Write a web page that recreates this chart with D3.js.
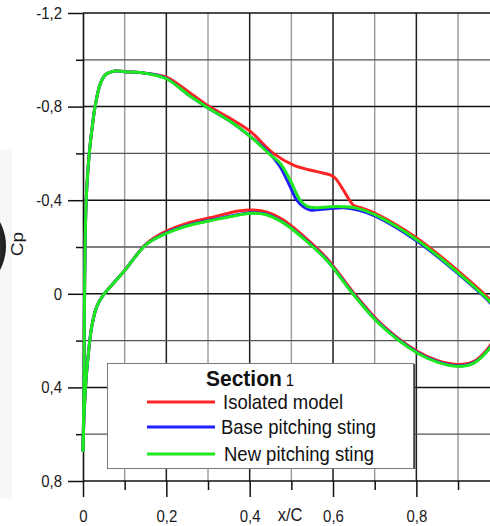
<!DOCTYPE html>
<html>
<head>
<meta charset="utf-8">
<script src="https://cdn.jsdelivr.net/npm/d3@7"></script>
<style>
  html, body { margin: 0; padding: 0; background: #fff; }
  svg { display: block; font-family: "Liberation Sans", Arial, sans-serif; }
</style>
</head>
<body>
<svg id="chart" width="490" height="526"></svg>
<script>
// ---- Pressure distribution, Section 1 ----
const seriesNames  = ["Isolated model", "Base pitching sting", "New pitching sting"];
const seriesColors = ["#ff2424", "#2020ff", "#1ee81e"];

// Axis ticks
const xTicks      = [0, 0.2, 0.4, 0.6, 0.8];
const xTickLabels = ["0", "0,2", "0,4", "0,6", "0,8"];
const xMinorTicks = [0.1, 0.3, 0.5, 0.7, 0.9];
const yTicks      = [-1.2, -0.8, -0.4, 0, 0.4, 0.8];
const yTickLabels = ["-1,2", "-0,8", "-0,4", "0", "0,4", "0,8"];
const yMinorTicks = [-1.0, -0.6, -0.2, 0.2, 0.6];

// Isolated model
const isoUpperX  = [0, 0.002, 0.003, 0.004, 0.006, 0.009, 0.015, 0.022, 0.029, 0.041, 0.053, 0.077, 0.1, 0.153, 0.2, 0.257, 0.301, 0.353, 0.401, 0.457, 0.505, 0.561, 0.593, 0.605, 0.625, 0.649, 0.67, 0.7, 0.8, 0.9, 0.978, 1.0];
const isoUpperCp = [0.67, 0.45, 0.2, -0.05, -0.3, -0.45, -0.6, -0.71, -0.8, -0.895, -0.935, -0.952, -0.949, -0.942, -0.926, -0.858, -0.802, -0.75, -0.695, -0.6, -0.55, -0.522, -0.508, -0.495, -0.443, -0.379, -0.366, -0.345, -0.24, -0.098, 0.028, 0.08];
const isoLowerX  = [0, 0.003, 0.008, 0.013, 0.021, 0.033, 0.049, 0.073, 0.1, 0.153, 0.2, 0.249, 0.305, 0.377, 0.409, 0.44, 0.481, 0.53, 0.585, 0.649, 0.713, 0.801, 0.85, 0.897, 0.937, 0.969, 0.99, 1.0];
const isoLowerCp = [0.67, 0.5, 0.35, 0.254, 0.14, 0.055, 0.005, -0.045, -0.1, -0.216, -0.268, -0.301, -0.325, -0.355, -0.358, -0.35, -0.315, -0.245, -0.152, -0.005, 0.124, 0.245, 0.285, 0.302, 0.29, 0.24, 0.18, 0.12];

// Base pitching sting
const baseUpperX  = [0, 0.002, 0.003, 0.004, 0.006, 0.009, 0.015, 0.022, 0.029, 0.041, 0.053, 0.077, 0.1, 0.153, 0.2, 0.257, 0.301, 0.353, 0.401, 0.449, 0.473, 0.497, 0.513, 0.529, 0.545, 0.57, 0.593, 0.625, 0.66, 0.7, 0.8, 0.9, 0.978, 1.0];
const baseUpperCp = [0.67, 0.45, 0.2, -0.05, -0.3, -0.45, -0.6, -0.71, -0.8, -0.895, -0.935, -0.952, -0.949, -0.942, -0.92, -0.845, -0.793, -0.737, -0.673, -0.598, -0.543, -0.458, -0.4, -0.372, -0.358, -0.36, -0.364, -0.368, -0.358, -0.333, -0.227, -0.086, 0.04, 0.095];
const baseLowerX  = [0, 0.003, 0.008, 0.013, 0.021, 0.033, 0.049, 0.073, 0.1, 0.153, 0.2, 0.249, 0.305, 0.377, 0.409, 0.44, 0.481, 0.53, 0.585, 0.649, 0.713, 0.801, 0.85, 0.897, 0.937, 0.969, 0.99, 1.0];
const baseLowerCp = [0.67, 0.5, 0.35, 0.254, 0.14, 0.055, 0.005, -0.045, -0.1, -0.213, -0.26, -0.292, -0.314, -0.34, -0.346, -0.34, -0.305, -0.237, -0.145, 0.001, 0.13, 0.25, 0.29, 0.308, 0.295, 0.246, 0.188, 0.128];

// New pitching sting
const newUpperX  = [0, 0.002, 0.003, 0.004, 0.006, 0.009, 0.015, 0.022, 0.029, 0.041, 0.053, 0.077, 0.1, 0.153, 0.2, 0.257, 0.301, 0.353, 0.401, 0.449, 0.473, 0.497, 0.521, 0.537, 0.56, 0.593, 0.625, 0.657, 0.7, 0.8, 0.9, 0.978, 1.0];
const newUpperCp = [0.67, 0.45, 0.2, -0.05, -0.3, -0.45, -0.6, -0.71, -0.8, -0.895, -0.935, -0.952, -0.949, -0.942, -0.919, -0.845, -0.793, -0.737, -0.673, -0.595, -0.558, -0.486, -0.4, -0.375, -0.368, -0.372, -0.372, -0.366, -0.338, -0.232, -0.09, 0.036, 0.09];
const newLowerX  = [0, 0.003, 0.008, 0.013, 0.021, 0.033, 0.049, 0.073, 0.1, 0.153, 0.2, 0.249, 0.305, 0.377, 0.409, 0.44, 0.481, 0.53, 0.585, 0.649, 0.713, 0.801, 0.85, 0.897, 0.937, 0.969, 0.99, 1.0];
const newLowerCp = [0.67, 0.5, 0.35, 0.254, 0.14, 0.055, 0.005, -0.045, -0.1, -0.212, -0.258, -0.29, -0.312, -0.338, -0.344, -0.338, -0.303, -0.235, -0.143, 0.003, 0.132, 0.252, 0.292, 0.31, 0.297, 0.248, 0.19, 0.13];

const surfaces = [
  { s: 0, xs: isoUpperX,  cp: isoUpperCp },
  { s: 0, xs: isoLowerX,  cp: isoLowerCp },
  { s: 1, xs: baseUpperX, cp: baseUpperCp },
  { s: 1, xs: baseLowerX, cp: baseLowerCp },
  { s: 2, xs: newUpperX,  cp: newUpperCp },
  { s: 2, xs: newLowerX,  cp: newLowerCp }
];

// ---- Layout ----
const W = 490, H = 526;
const x = d3.scaleLinear().domain([0, 1]).range([83, 499.7]);
const y = d3.scaleLinear().domain([-1.2, 0.8]).range([13, 481]);
const svg = d3.select("#chart");

// faint strip and the edge of a dark disc at the left border
const defs = svg.append("defs");
const rg = defs.append("radialGradient").attr("id", "disc").attr("cx", "50%").attr("cy", "50%").attr("r", "50%");
rg.append("stop").attr("offset", "0%").attr("stop-color", "#555");
rg.append("stop").attr("offset", "85%").attr("stop-color", "#2e2e2e");
rg.append("stop").attr("offset", "100%").attr("stop-color", "#1c1c1c");
svg.append("rect").attr("x", 0).attr("y", 150).attr("width", 12).attr("height", 348).attr("fill", "#f7f7f7");
svg.append("circle").attr("cx", -45).attr("cy", 246).attr("r", 51).attr("fill", "url(#disc)");

// ---- Grid ----
const grid = svg.append("g");
const xMajorGrid = xTicks.filter(d => d > 0).concat([1.0]);
grid.selectAll(".vmin").data(xMinorTicks).join("line")
  .attr("x1", d => x(d)).attr("x2", d => x(d))
  .attr("y1", y(-1.2)).attr("y2", y(0.8))
  .attr("stroke", "#9a9a9a").attr("stroke-width", 1.4);
grid.selectAll(".vmaj").data(xMajorGrid).join("line")
  .attr("x1", d => x(d)).attr("x2", d => x(d))
  .attr("y1", y(-1.2)).attr("y2", y(0.8))
  .attr("stroke", "#1e1e1e").attr("stroke-width", 1.5);
grid.selectAll(".hmin").data(yMinorTicks).join("line")
  .attr("x1", x(0)).attr("x2", W)
  .attr("y1", d => y(d)).attr("y2", d => y(d))
  .attr("stroke", "#555").attr("stroke-width", 1.3);
grid.selectAll(".hmaj").data(yTicks.filter(d => d < 0.8)).join("line")
  .attr("x1", x(0)).attr("x2", W)
  .attr("y1", d => y(d)).attr("y2", d => y(d))
  .attr("stroke", "#111").attr("stroke-width", 1.5);

// ---- Axes ----
const axisStyle = g => {
  g.selectAll("path.domain").attr("stroke", "#111").attr("stroke-width", 1.6);
  g.selectAll(".tick line").attr("stroke", "#111").attr("stroke-width", 1.5);
};

const yAxis = svg.append("g").attr("transform", `translate(${x(0)},0)`)
  .call(d3.axisLeft(y).tickValues(yTicks).tickSize(15).tickSizeOuter(0).tickPadding(6)
    .tickFormat((d, i) => yTickLabels[i]))
  .call(axisStyle);
yAxis.selectAll(".tick text")
  .attr("font-size", 15).attr("font-family", "Liberation Sans, Arial, sans-serif")
  .attr("fill", "#1a1a1a").attr("transform", "scale(1,1.12)");

svg.append("g").attr("transform", `translate(${x(0)},0)`)
  .call(d3.axisLeft(y).tickValues(yMinorTicks).tickSize(7).tickFormat(""))
  .call(g => g.select("path.domain").remove())
  .call(axisStyle);

const xAxis = svg.append("g").attr("transform", `translate(0,${y(0.8)})`)
  .call(d3.axisBottom(x).tickValues(xTicks).tickSize(16).tickSizeOuter(0)
    .tickFormat((d, i) => xTickLabels[i]))
  .call(axisStyle);
xAxis.select("path.domain").attr("d", `M${x(0)},0H${W}`);
xAxis.selectAll(".tick text")
  .attr("font-size", 15).attr("font-family", "Liberation Sans, Arial, sans-serif")
  .attr("fill", "#1a1a1a").attr("y", 26).attr("transform", "scale(1,1.12)");

svg.append("g").attr("transform", `translate(0,${y(0.8)})`)
  .call(d3.axisBottom(x).tickValues(xMinorTicks).tickSize(9).tickFormat(""))
  .call(g => g.select("path.domain").remove())
  .call(axisStyle);

// axis titles
svg.append("text").attr("transform", "translate(290,521) scale(1,1.1)")
  .attr("text-anchor", "middle").attr("font-size", 16.5).attr("fill", "#1a1a1a").text("x/C");
svg.append("text").attr("transform", "translate(23,244) rotate(-90) scale(1.12,1)")
  .attr("text-anchor", "middle").attr("font-size", 17).attr("fill", "#1a1a1a").text("Cp");

// ---- Curves ----
const line = d3.line()
  .x(d => x(d[0])).y(d => y(d[1]))
  .curve(d3.curveCatmullRom.alpha(0.5));
svg.append("g").selectAll("path").data(surfaces).join("path")
  .attr("d", d => line(d.xs.map((v, i) => [v, d.cp[i]])))
  .attr("fill", "none")
  .attr("stroke", d => seriesColors[d.s])
  .attr("stroke-width", 3)
  .attr("stroke-linejoin", "round").attr("stroke-linecap", "round");

// ---- Legend ----
const lg = svg.append("g");
lg.append("rect").attr("x", 107.5).attr("y", 363.5).attr("width", 306).attr("height", 105)
  .attr("fill", "#fff").attr("stroke", "#7a7a7a").attr("stroke-width", 1);
lg.append("line").attr("x1", 414.5).attr("x2", 414.5).attr("y1", 364).attr("y2", 469)
  .attr("stroke", "#444").attr("stroke-width", 1.5);

const title = lg.append("text").attr("transform", "translate(206,386) scale(1,1.07)")
  .attr("fill", "#111");
title.append("tspan").attr("font-size", 21).attr("font-weight", "bold").text("Section");
title.append("tspan").attr("font-size", 15).attr("dx", 4).text("1");

const legendY = [402, 427, 454];
const legendTextX = [223, 221, 224];
const items = lg.selectAll(".item").data(seriesNames).join("g");
items.append("line")
  .attr("x1", 147).attr("x2", 215)
  .attr("y1", (d, i) => legendY[i]).attr("y2", (d, i) => legendY[i])
  .attr("stroke", (d, i) => seriesColors[i]).attr("stroke-width", 3);
items.append("text")
  .attr("transform", (d, i) => `translate(${legendTextX[i]},${legendY[i] + 7}) scale(1,1.07)`)
  .attr("font-size", 18.5).attr("fill", "#111")
  .text(d => d);
</script>
</body>
</html>
